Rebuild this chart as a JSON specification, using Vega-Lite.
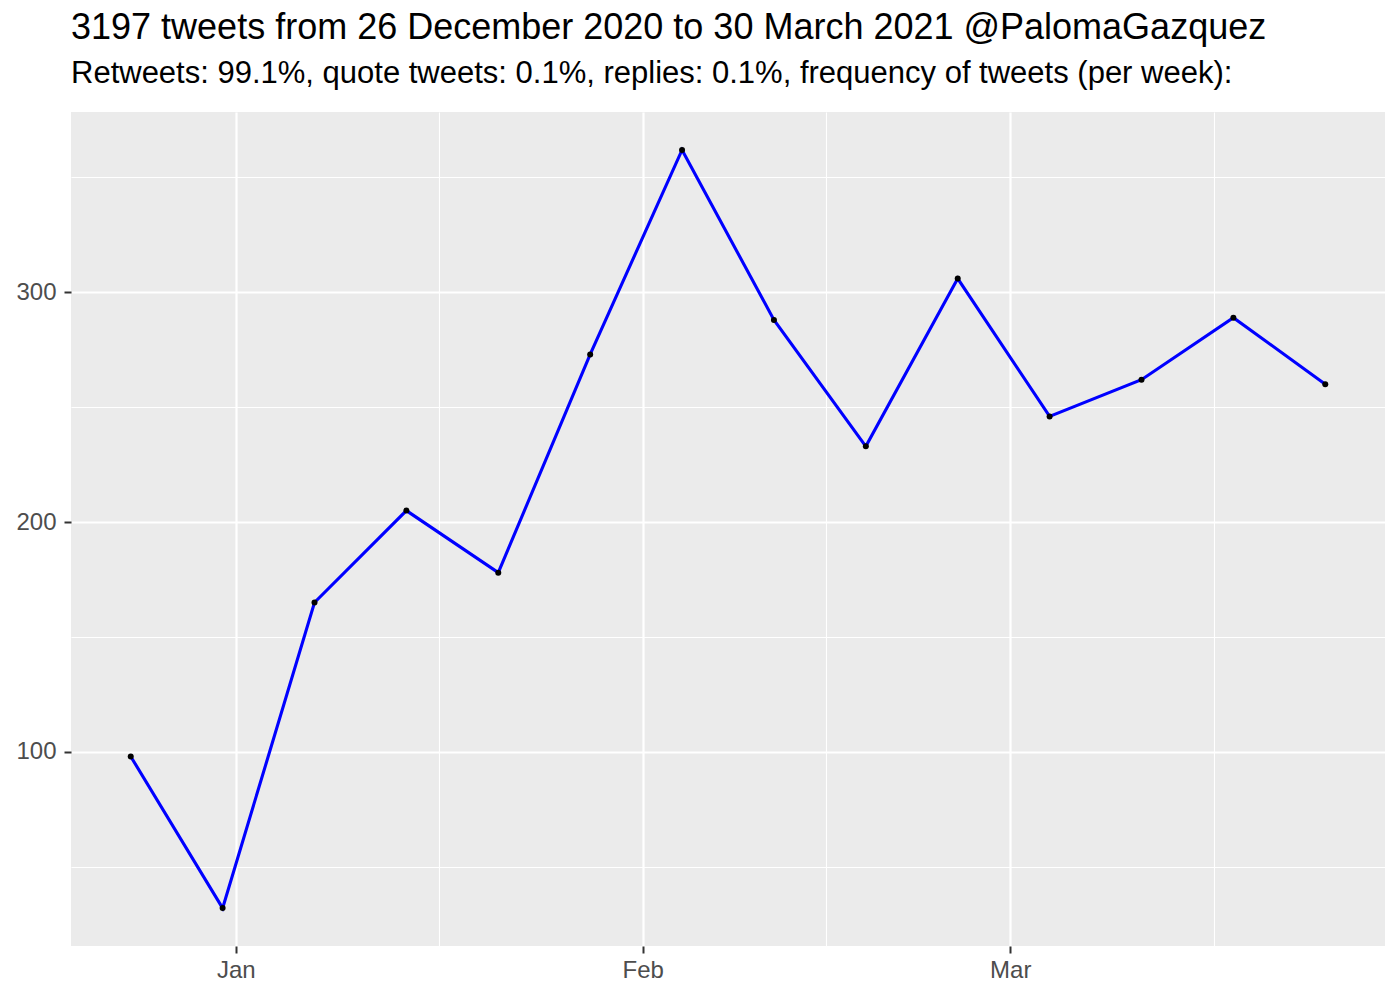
{
  "$schema": "https://vega.github.io/schema/vega-lite/v6.json",
  "width": 1314,
  "height": 834,
  "autosize": {"type": "none"},
  "padding": {"left": 71, "top": 112, "right": 15, "bottom": 54},
  "background": "white",
  "title": {
    "text": "3197 tweets from 26 December 2020 to 30 March 2021 @PalomaGazquez",
    "subtitle": "Retweets: 99.1%, quote tweets: 0.1%, replies: 0.1%, frequency of tweets (per week):",
    "anchor": "start",
    "frame": "group",
    "font": "Liberation Sans",
    "subtitleFont": "Liberation Sans",
    "fontSize": 36,
    "subtitleFontSize": 31,
    "fontWeight": "normal",
    "color": "black",
    "subtitleColor": "black",
    "subtitlePadding": 11.5,
    "offset": 22.5
  },
  "config": {
    "view": {"fill": "#EBEBEB", "stroke": null},
    "axis": {"labelFont": "Liberation Sans"}
  },
  "data": {
    "values": [
      {"week": "2020-12-24T00:00:00", "tweets": 98},
      {"week": "2020-12-31T00:00:00", "tweets": 32},
      {"week": "2021-01-07T00:00:00", "tweets": 165},
      {"week": "2021-01-14T00:00:00", "tweets": 205},
      {"week": "2021-01-21T00:00:00", "tweets": 178},
      {"week": "2021-01-28T00:00:00", "tweets": 273},
      {"week": "2021-02-04T00:00:00", "tweets": 362},
      {"week": "2021-02-11T00:00:00", "tweets": 288},
      {"week": "2021-02-18T00:00:00", "tweets": 233},
      {"week": "2021-02-25T00:00:00", "tweets": 306},
      {"week": "2021-03-04T00:00:00", "tweets": 246},
      {"week": "2021-03-11T00:00:00", "tweets": 262},
      {"week": "2021-03-18T00:00:00", "tweets": 289},
      {"week": "2021-03-25T00:00:00", "tweets": 260}
    ]
  },
  "resolve": {"axis": {"x": "independent", "y": "independent"}},
  "layer": [
    {
      "mark": {"type": "line", "color": "#0000FF", "strokeWidth": 3.1},
      "encoding": {
        "x": {
          "field": "week", "type": "temporal",
          "scale": {"domain": [
            {"year": 2020, "month": 12, "date": 19, "hours": 10, "minutes": 48},
            {"year": 2021, "month": 3, "date": 29, "hours": 13, "minutes": 12}
          ]},
          "axis": {
            "title": null,
            "values": [
              {"year": 2021, "month": 1, "date": 1},
              {"year": 2021, "month": 2, "date": 1},
              {"year": 2021, "month": 3, "date": 1}
            ],
            "format": "%b",
            "domain": false,
            "grid": true, "gridColor": "white", "gridWidth": 2.2, "gridOpacity": 1,
            "ticks": true, "tickColor": "#333333", "tickWidth": 2, "tickSize": 7,
            "labelFontSize": 24, "labelColor": "#4D4D4D", "labelPadding": 5
          }
        },
        "y": {
          "field": "tweets", "type": "quantitative",
          "scale": {"domain": [15.5, 378.5], "nice": false, "zero": false},
          "axis": {
            "title": null,
            "values": [100, 200, 300],
            "domain": false,
            "grid": true, "gridColor": "white", "gridWidth": 2.2, "gridOpacity": 1,
            "ticks": true, "tickColor": "#333333", "tickWidth": 2, "tickSize": 7,
            "labelFontSize": 24, "labelColor": "#4D4D4D", "labelPadding": 8
          }
        }
      }
    },
    {
      "mark": {"type": "point", "filled": true, "color": "black", "size": 36, "opacity": 1},
      "encoding": {
        "x": {
          "field": "week", "type": "temporal",
          "axis": {
            "title": null,
            "values": [
              {"year": 2021, "month": 1, "date": 16, "hours": 12},
              {"year": 2021, "month": 2, "date": 15},
              {"year": 2021, "month": 3, "date": 16, "hours": 12}
            ],
            "domain": false, "labels": false, "ticks": false,
            "grid": true, "gridColor": "white", "gridWidth": 1.1, "gridOpacity": 1
          }
        },
        "y": {
          "field": "tweets", "type": "quantitative",
          "axis": {
            "title": null,
            "orient": "left",
            "values": [50, 150, 250, 350],
            "domain": false, "labels": false, "ticks": false,
            "grid": true, "gridColor": "white", "gridWidth": 1.1, "gridOpacity": 1
          }
        }
      }
    }
  ]
}
